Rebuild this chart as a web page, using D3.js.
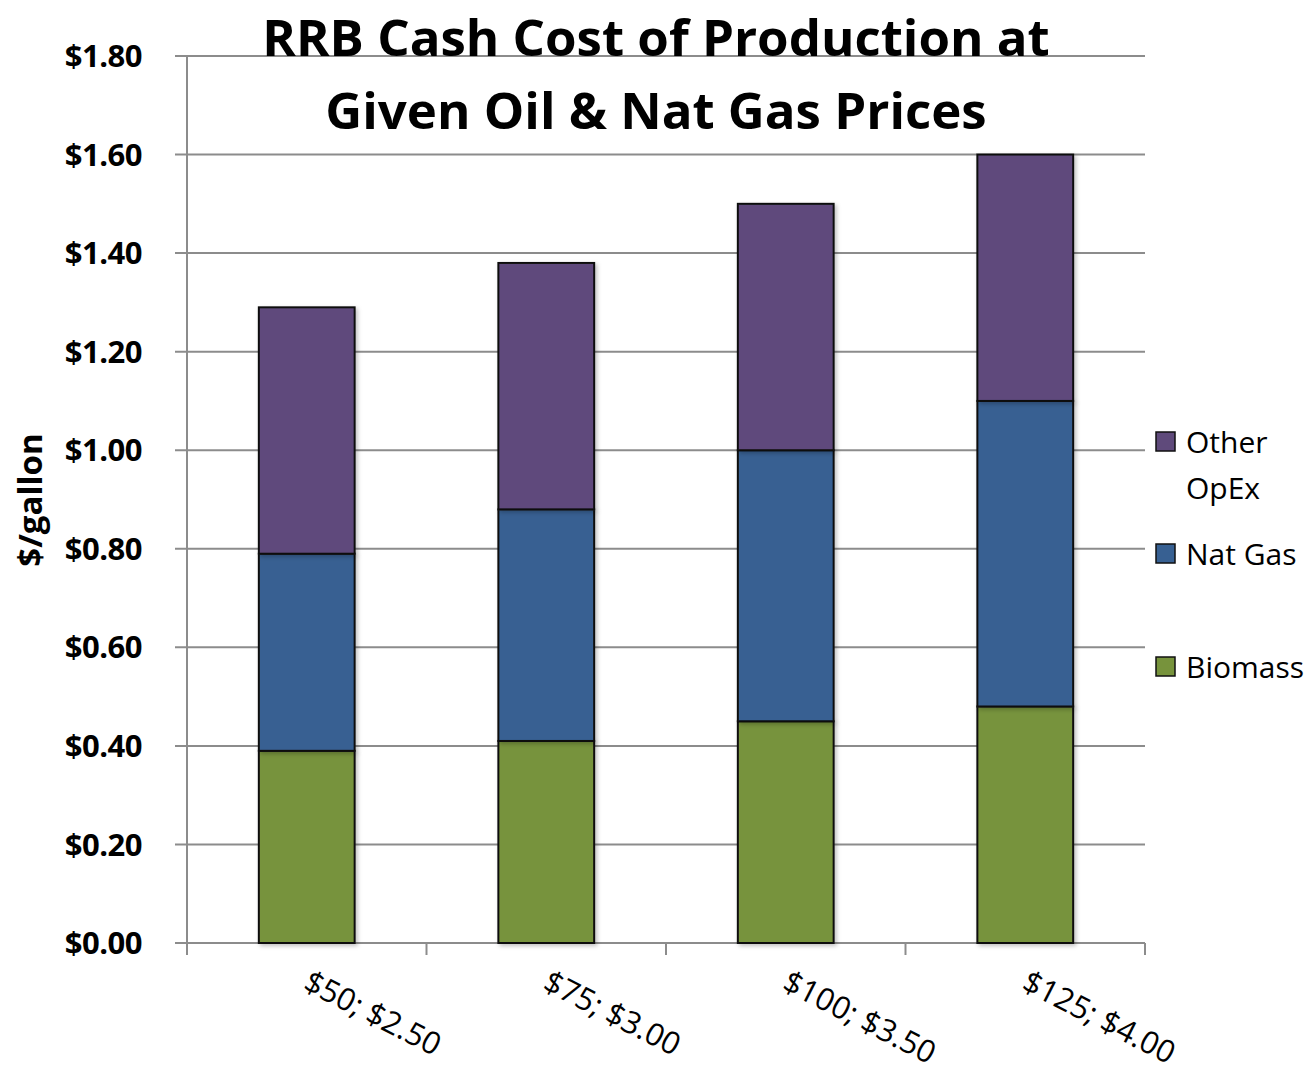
<!DOCTYPE html>
<html>
<head>
<meta charset="utf-8">
<script src="https://cdn.jsdelivr.net/npm/d3@7"></script>
<style>
  body { margin: 0; background: #fff; }
  text { font-family: "Open Sans", "Noto Sans", sans-serif; }
</style>
</head>
<body>
<div id="chart"></div>
<script>
// categories (oil price; nat gas price)
const categories = ["$50; $2.50", "$75; $3.00", "$100; $3.50", "$125; $4.00"];
// series values, $/gallon
const biomass = [0.39, 0.41, 0.45, 0.48];
const natGas = [0.40, 0.47, 0.55, 0.62];
const otherOpEx = [0.50, 0.50, 0.50, 0.50];
const yTicks = [0, 0.2, 0.4, 0.6, 0.8, 1.0, 1.2, 1.4, 1.6, 1.8];

const seriesNames = ["Biomass", "Nat Gas", "Other OpEx"];
const colors = { "Biomass": "#77933C", "Nat Gas": "#376092", "Other OpEx": "#5F4A7B" };

const width = 1312, height = 1077;
const margin = { top: 56, right: 167, bottom: 134, left: 187 };

const svg = d3.select("#chart").append("svg")
  .attr("width", width).attr("height", height);

const defs = svg.append("defs");
const shadow = defs.append("filter").attr("id", "shadow")
  .attr("x", "-10%").attr("y", "-10%").attr("width", "130%").attr("height", "130%");
shadow.append("feDropShadow").attr("dx", 2).attr("dy", 2).attr("stdDeviation", 2)
  .attr("flood-color", "#000").attr("flood-opacity", 0.25);

const x = d3.scaleBand().domain(categories)
  .range([margin.left, width - margin.right]).paddingInner(0.6).paddingOuter(0.3);
const y = d3.scaleLinear().domain([0, 1.8]).range([height - margin.bottom, margin.top]);

// table for stacking
const table = categories.map((c, i) => ({
  cat: c, "Biomass": biomass[i], "Nat Gas": natGas[i], "Other OpEx": otherOpEx[i]
}));
const stacked = d3.stack().keys(seriesNames)(table);

// gridlines (extend left as tick marks)
svg.append("g").selectAll("line").data(yTicks).join("line")
  .attr("x1", margin.left - 12).attr("x2", width - margin.right)
  .attr("y1", d => y(d)).attr("y2", d => y(d))
  .attr("stroke", "#8c8c8c").attr("stroke-width", 2);

// y axis line
svg.append("line")
  .attr("x1", margin.left).attr("x2", margin.left)
  .attr("y1", y(1.8)).attr("y2", y(0))
  .attr("stroke", "#8c8c8c").attr("stroke-width", 2);

// x axis ticks at category boundaries
const bounds = d3.range(categories.length + 1).map(i => margin.left + i * (width - margin.right - margin.left) / categories.length);
svg.append("g").selectAll("line").data(bounds).join("line")
  .attr("x1", d => d).attr("x2", d => d)
  .attr("y1", y(0)).attr("y2", y(0) + 12)
  .attr("stroke", "#8c8c8c").attr("stroke-width", 2);

// y tick labels
svg.append("g").selectAll("text").data(yTicks).join("text")
  .attr("x", 142).attr("y", d => y(d))
  .attr("dy", "0.36em")
  .attr("text-anchor", "end")
  .attr("font-weight", "bold")
  .attr("font-size", 31)
  .attr("letter-spacing", -0.5)
  .text(d => "$" + d.toFixed(2));

// bars
svg.append("g").selectAll("g").data(stacked).join("g")
  .attr("fill", d => colors[d.key])
  .selectAll("rect").data(d => d).join("rect")
  .attr("x", d => x(d.data.cat))
  .attr("width", x.bandwidth())
  .attr("y", d => y(d[1]))
  .attr("height", d => y(d[0]) - y(d[1]))
  .attr("stroke", "#111").attr("stroke-width", 2)
  .attr("filter", "url(#shadow)");

// x labels, rotated
svg.append("g").selectAll("text").data(categories).join("text")
  .attr("transform", d => `translate(${x(d) + x.bandwidth() / 2 - 5},${y(0) + 46}) rotate(27)`)
  .attr("font-size", 31)
  .text(d => d);

// y axis title
svg.append("text")
  .attr("transform", `translate(42,500) rotate(-90)`)
  .attr("text-anchor", "middle")
  .attr("font-weight", "bold")
  .attr("font-size", 33)
  .text("$/gallon");

// title
const title = svg.append("text")
  .attr("text-anchor", "middle")
  .attr("font-weight", "bold")
  .attr("font-size", 51);
title.append("tspan").attr("x", 656).attr("y", 56).text("RRB Cash Cost of Production at");
title.append("tspan").attr("x", 656).attr("y", 129).text("Given Oil & Nat Gas Prices");

// legend
const legendItems = [
  { key: "Other OpEx", lines: ["Other", "OpEx"], y: 441 },
  { key: "Nat Gas", lines: ["Nat Gas"], y: 553 },
  { key: "Biomass", lines: ["Biomass"], y: 666 }
];
const lg = svg.append("g").selectAll("g").data(legendItems).join("g");
lg.append("rect")
  .attr("x", 1156).attr("y", d => d.y - 9)
  .attr("width", 19).attr("height", 19)
  .attr("fill", d => colors[d.key])
  .attr("stroke", "#111").attr("stroke-width", 1.5);
lg.append("text")
  .attr("font-size", 30)
  .each(function (d) {
    const t = d3.select(this);
    d.lines.forEach((l, i) => {
      t.append("tspan").attr("x", 1186).attr("y", d.y + 12 + i * 46).text(l);
    });
  });
</script>
</body>
</html>
